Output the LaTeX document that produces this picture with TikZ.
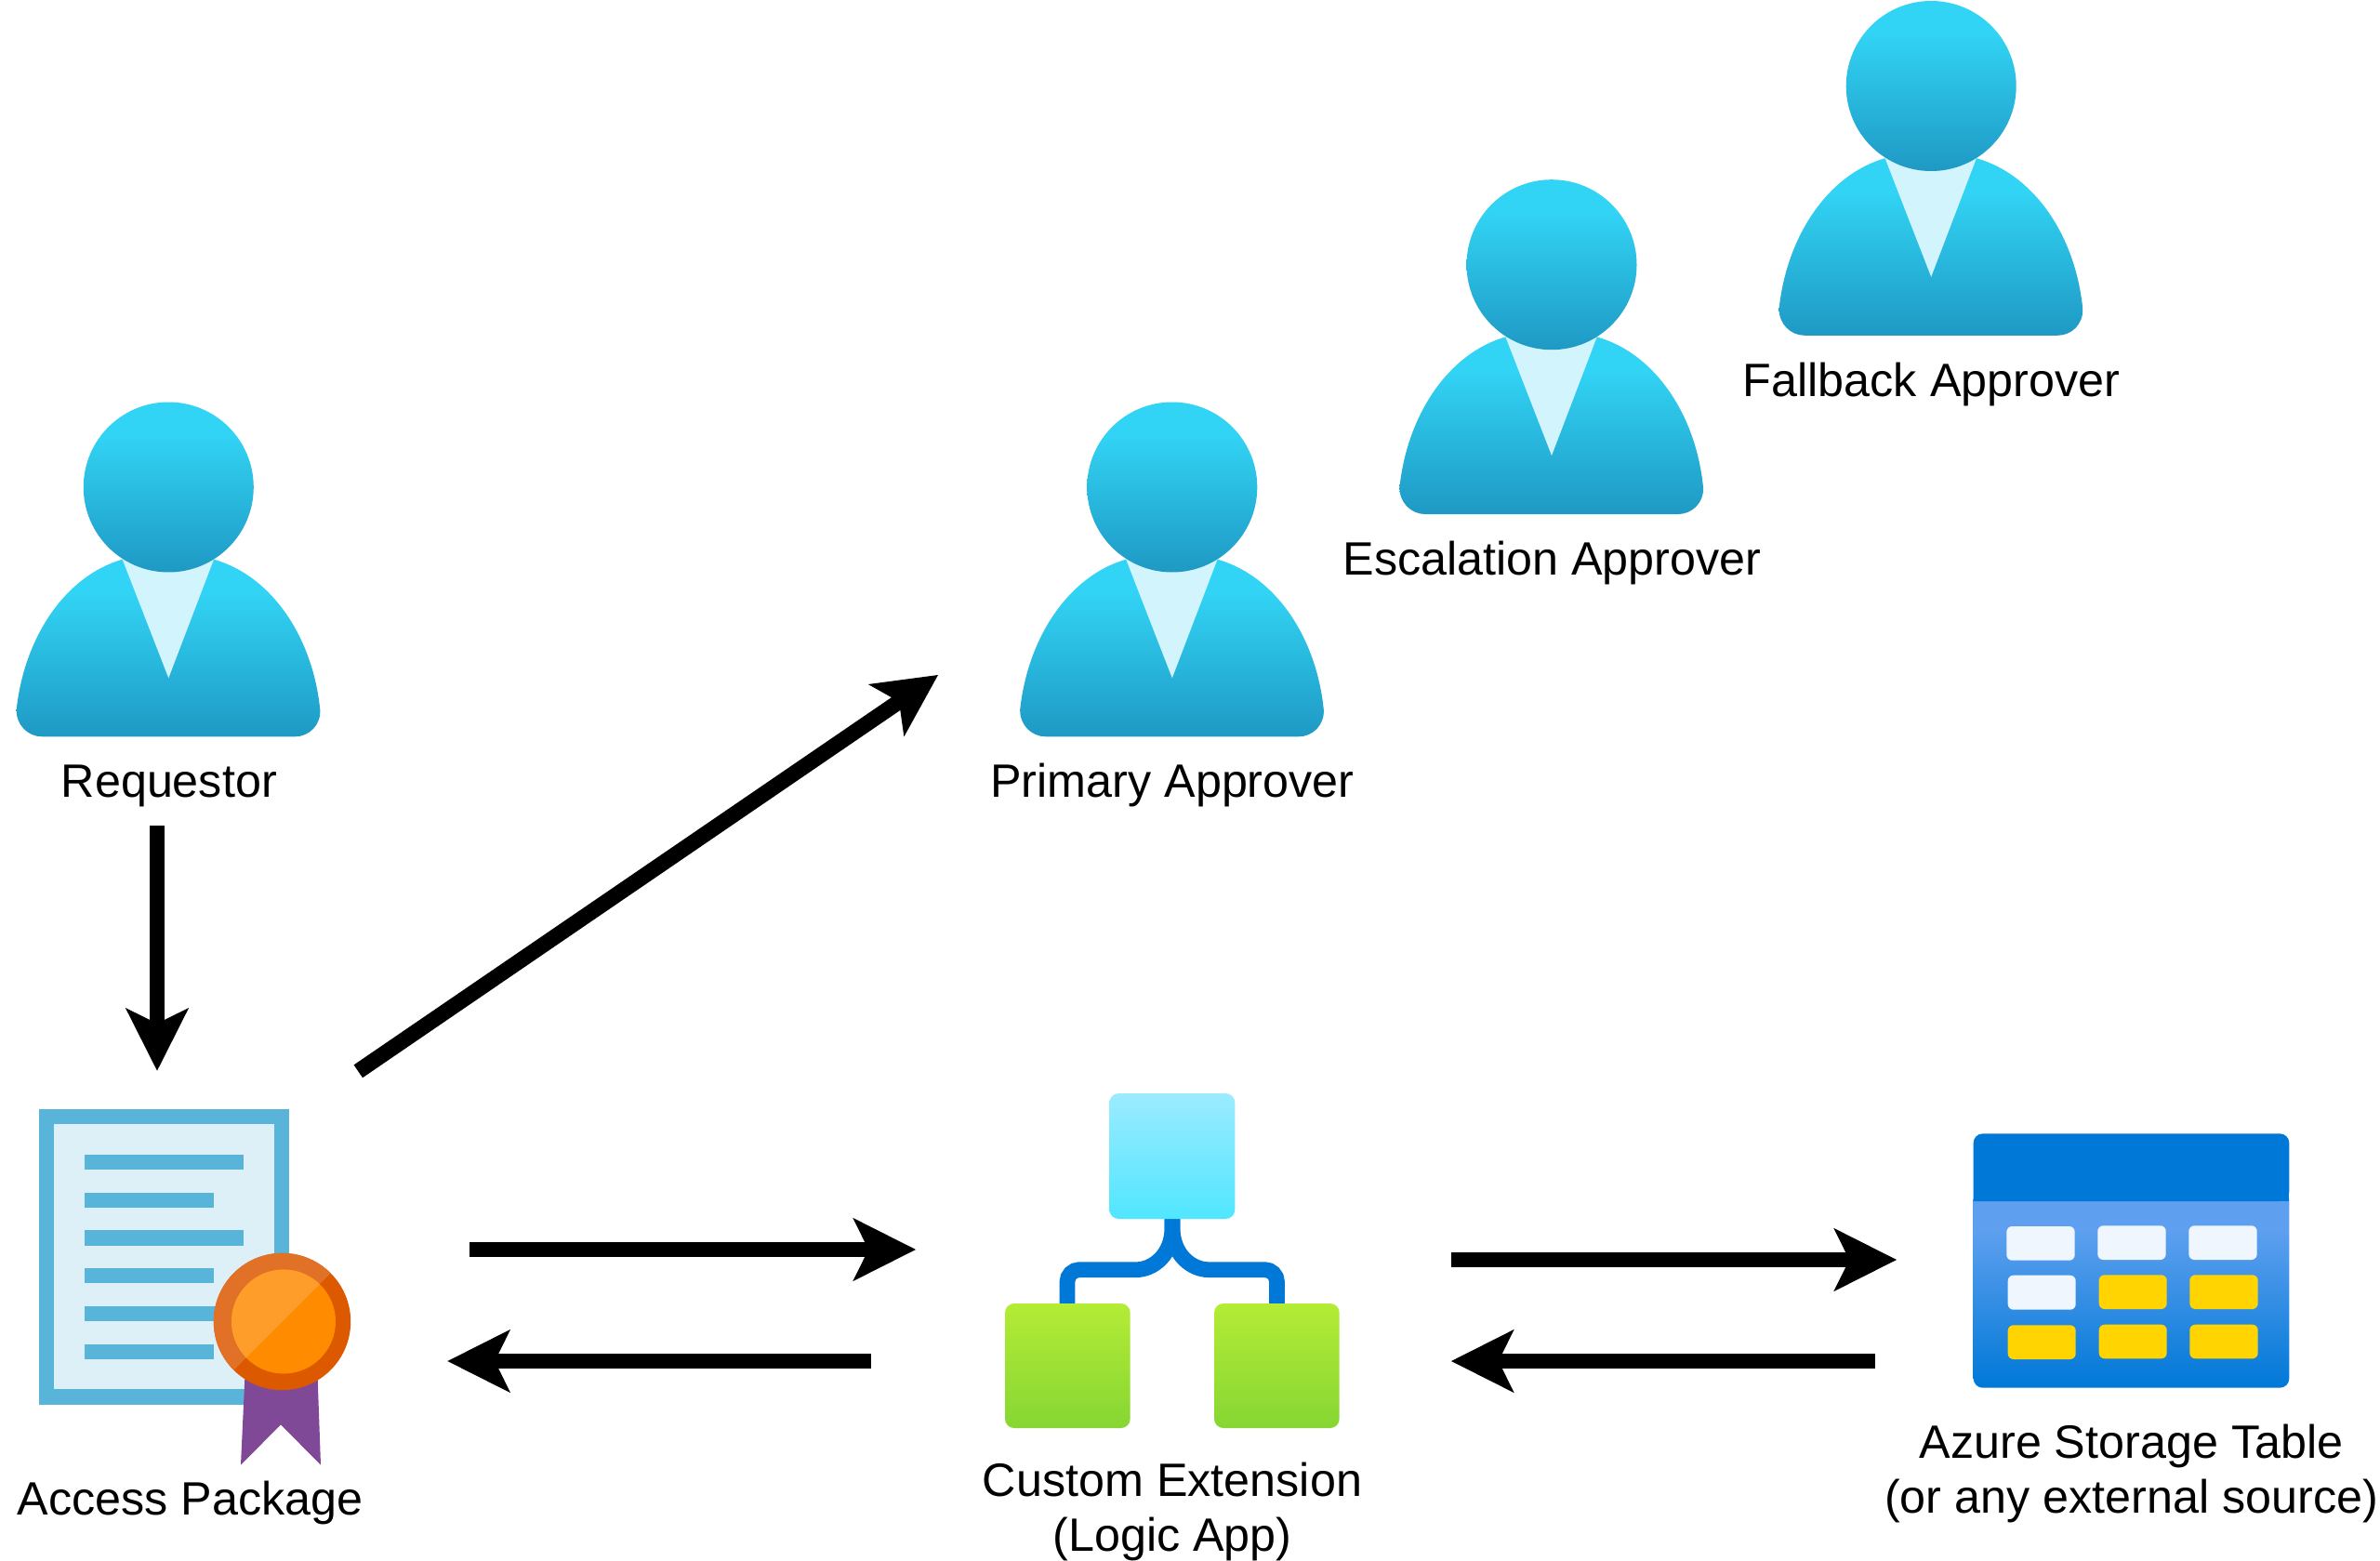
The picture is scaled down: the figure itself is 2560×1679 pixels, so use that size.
\documentclass[tikz,border=0pt]{standalone}
\usepackage{fontspec}
\setmainfont{Liberation Sans}
\usetikzlibrary{arrows.meta}
\definecolor{pTop}{HTML}{32D4F5}
\definecolor{pBot}{HTML}{1E99C4}
\definecolor{pCollar}{HTML}{D2F4FC}
\definecolor{docBlue}{HTML}{59B4D9}
\definecolor{docPale}{HTML}{DEF0F7}
\definecolor{medDark}{HTML}{DD5900}
\definecolor{medLight}{HTML}{E17127}
\definecolor{medIn}{HTML}{FF8C00}
\definecolor{medInLight}{HTML}{FF9D2A}
\definecolor{ribbon}{HTML}{804998}
\definecolor{azure}{HTML}{0078D7}
\definecolor{tabTop}{HTML}{5EA0EF}
\definecolor{cellWhite}{HTML}{EFF6FD}
\definecolor{cellYellow}{HTML}{FFD400}
\definecolor{skyTop}{HTML}{9CEBFF}
\definecolor{skyBot}{HTML}{50E6FF}
\definecolor{leafTop}{HTML}{B4EC36}
\definecolor{leafBot}{HTML}{86D633}
\pgfdeclareverticalshading{personshade}{100bp}{color(0bp)=(pBot);color(25bp)=(pBot);color(66bp)=(pTop);color(100bp)=(pTop)}
\pgfdeclareverticalshading{tableshade}{100bp}{color(0bp)=(azure);color(25bp)=(azure);color(65bp)=(tabTop);color(100bp)=(tabTop)}
\tikzset{
  x=0.01cm,y=-0.01cm,
  person/.pic={
    \path[shading=personshade] (-163.6,239.3) .. controls (-155,160) and (-110,95) .. (-49.6,77.7)
      -- (48.7,77.7) .. controls (110,95) and (155,160) .. (163,239.3)
      .. controls (164,256) and (151,268.3) .. (136,268.3)
      -- (-136,268.3) .. controls (-151,268.3) and (-164,256) .. cycle;
    \fill[pCollar] (-49.6,77.7) -- (48.7,77.7) -- (0,205.3) -- cycle;
    \path[shading=personshade] (0,0) circle[radius=91.5];
  },
  label/.style={font=\fontsize{14.3}{16.75}\selectfont,anchor=base,inner sep=0pt,align=center,text=black},
  flowline/.style={line width=0.167cm,draw=black,-{Stealth[length=0.677cm,width=0.683cm,inset=0.169cm,line width=0pt]}},
  docrule/.style={fill=docBlue},
  tile/.style={rounded corners=0.1cm},
  cell/.style={rounded corners=0.06cm},
}
\begin{document}
\begin{tikzpicture}
\useasboundingbox (0,0) rectangle (2560,1679);
\fill[white] (0,0) rectangle (2560,1679);

% people
\coordinate (requestorHead) at (181.3,524);
\coordinate (primaryHead) at (1260.8,524);
\coordinate (escalationHead) at (1669,284.7);
\coordinate (fallbackHead) at (2077.2,92.5);
\pic at (requestorHead) {person};
\pic at (primaryHead) {person};
\pic at (escalationHead) {person};
\pic at (fallbackHead) {person};
\node[label] (requestorLabel) at (181.8,857.5) {Requestor};
\node[label] (primaryLabel) at (1261,857.5) {Primary Approver};
\node[label] (escalationLabel) at (1669.5,618.3) {Escalation Approver};
\node[label] (fallbackLabel) at (2077.5,426.3) {Fallback Approver};

% access package
\fill[docBlue] (42,1192.7) rectangle (311.3,1510.7);
\fill[docPale] (58.3,1209) rectangle (295,1494.3);
\fill[docrule] (91,1241.7) rectangle (262.3,1258);
\fill[docrule] (91,1282.7) rectangle (229.7,1299);
\fill[docrule] (91,1323.3) rectangle (262.3,1339.7);
\fill[docrule] (91,1364) rectangle (229.7,1380.3);
\fill[docrule] (91,1405) rectangle (262.3,1421.3);
\fill[docrule] (91,1445.7) rectangle (229.7,1462);
\fill[ribbon] (263.3,1483.3) -- (259,1575.7) -- (302,1532.3) -- (345,1575.7) -- (341.7,1483.3) -- cycle;
\fill[medDark] (303.5,1421.5) circle[radius=73.7];
\begin{scope}
  \clip (403.5,1321.5) -- (203.5,1521.5) -- (203.5,1321.5) -- cycle;
  \fill[medLight] (303.5,1421.5) circle[radius=73.7];
\end{scope}
\fill[medIn] (305,1421.5) circle[radius=56];
\begin{scope}
  \clip (403.5,1321.5) -- (203.5,1521.5) -- (203.5,1321.5) -- cycle;
  \fill[medInLight] (305,1421.5) circle[radius=56];
\end{scope}
\node[label] (accessLabel) at (204.8,1629.8) {Access Package};

% logic app
\draw[azure,line width=0.167cm] (1261,1305) -- (1261,1320) .. controls (1261,1350) and (1240,1365.7) .. (1222,1365.7)
  [rounded corners=0.13cm] -- (1148,1365.7) -- (1148,1410);
\draw[azure,line width=0.167cm] (1261,1305) -- (1261,1320) .. controls (1261,1350) and (1282,1365.7) .. (1300,1365.7)
  [rounded corners=0.13cm] -- (1373.5,1365.7) -- (1373.5,1410);
\path[tile,top color=skyTop,bottom color=skyBot] (1193.3,1176) rectangle (1328.3,1311);
\path[tile,top color=leafTop,bottom color=leafBot] (1081,1402) rectangle (1215.7,1536);
\path[tile,top color=leafTop,bottom color=leafBot] (1306,1402) rectangle (1440.7,1536);
\node[label] (logicLabel) at (1261,1668.3) {Custom Extension\\(Logic App)};

% storage table
\path[rounded corners=0.1cm,shading=tableshade] (2122.7,1280) -- (2122.7,1492.7) -- (2462.3,1492.7) -- (2462.3,1280) -- cycle;
\fill[azure,rounded corners=0.1cm] (2122.7,1292) -- (2122.7,1219.3) -- (2462.3,1219.3) -- (2462.3,1292) [sharp corners] -- cycle;
\fill[azure] (2122.7,1270) rectangle (2462.3,1292);
\fill[cell,cellWhite] (2158.3,1319) rectangle (2231.7,1355.7);
\fill[cell,cellWhite] (2256.3,1318.3) rectangle (2329.7,1355);
\fill[cell,cellWhite] (2354.3,1318.3) rectangle (2427.7,1355);
\fill[cell,cellWhite] (2159.7,1371.7) rectangle (2232.7,1408.7);
\fill[cell,cellYellow] (2257.7,1371.3) rectangle (2330.7,1408);
\fill[cell,cellYellow] (2355.3,1371.3) rectangle (2428.7,1408);
\fill[cell,cellYellow] (2159.7,1425.3) rectangle (2232.7,1462);
\fill[cell,cellYellow] (2257.7,1424.7) rectangle (2330.7,1461.3);
\fill[cell,cellYellow] (2355.3,1424.7) rectangle (2428.7,1461.3);
\node[label] (tableLabel) at (2292.5,1627.8) {Azure Storage Table\\(or any external source)};

% connectors
\coordinate (reqOut) at (169,888.3);
\coordinate (pkgIn) at (169,1151.7);
\coordinate (pkgUp) at (385.3,1152.3);
\coordinate (primaryIn) at (1009,726);
\coordinate (pkgOut) at (505,1344);
\coordinate (logicIn) at (985,1344);
\coordinate (logicBack) at (937,1464);
\coordinate (pkgBack) at (481.4,1464);
\coordinate (logicOut) at (1560.7,1355);
\coordinate (tableIn) at (2040,1355);
\coordinate (tableBack) at (2016.7,1464);
\coordinate (logicRet) at (1561,1464);
\draw[flowline] (reqOut) -- (pkgIn);
\draw[flowline] (pkgUp) -- (primaryIn);
\draw[flowline] (pkgOut) -- (logicIn);
\draw[flowline] (logicBack) -- (pkgBack);
\draw[flowline] (logicOut) -- (tableIn);
\draw[flowline] (tableBack) -- (logicRet);
\end{tikzpicture}
\end{document}
